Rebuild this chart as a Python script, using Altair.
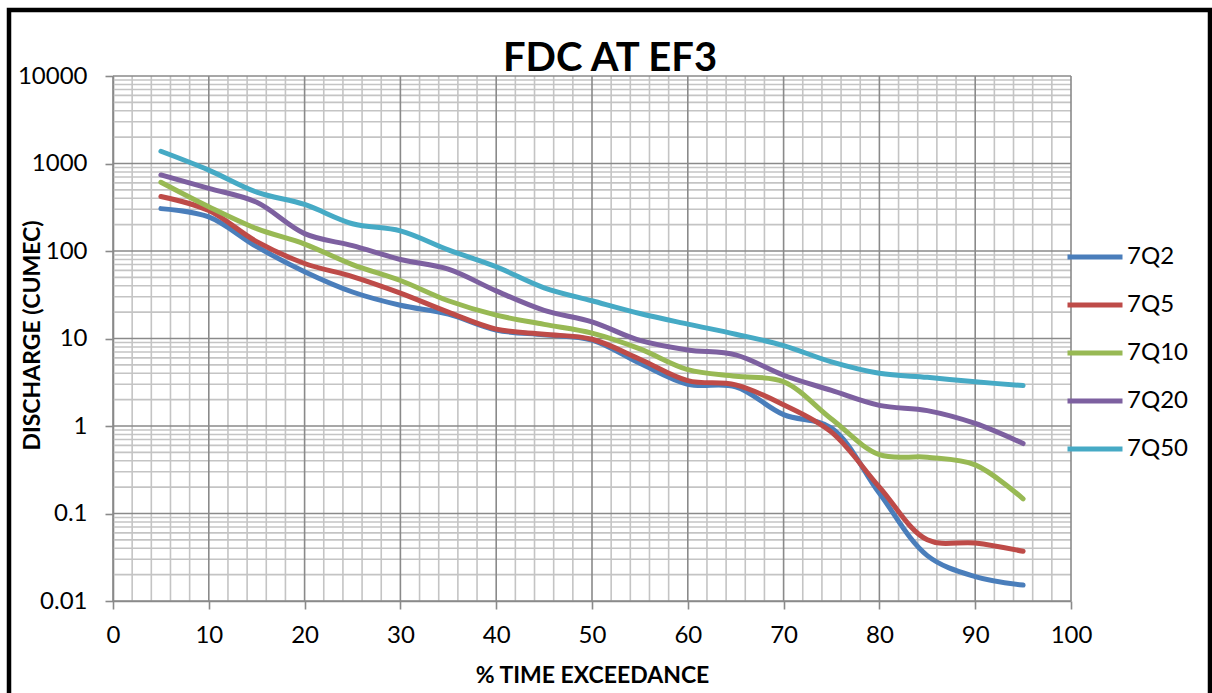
import altair as alt
import pandas as pd

# ---- data ----
exceedance = [5, 10, 15, 20, 25, 30, 35, 40, 45, 50, 55, 60, 65, 70, 75, 80, 85, 90, 95]
q7_2 = [305, 245, 112, 58, 34, 24, 19, 12.5, 11, 9.6, 5.2, 3.0, 2.8, 1.35, 0.95, 0.17, 0.033, 0.019, 0.0152]
q7_5 = [420, 290, 128, 72, 51, 33, 20, 12.8, 11.2, 9.8, 5.8, 3.3, 2.95, 1.75, 0.85, 0.2, 0.05, 0.046, 0.037]
q7_10 = [610, 320, 180, 120, 70, 46, 27, 18.5, 14.5, 11.5, 7.6, 4.4, 3.7, 3.2, 1.2, 0.47, 0.44, 0.36, 0.147]
q7_20 = [740, 520, 360, 158, 115, 80, 62, 35, 21, 15.5, 9.5, 7.4, 6.5, 3.8, 2.55, 1.72, 1.5, 1.07, 0.63]
q7_50 = [1380, 840, 470, 340, 205, 170, 103, 66, 38, 27, 19.3, 14.6, 11.2, 8.3, 5.4, 4.0, 3.6, 3.2, 2.9]
series_names = ["7Q2", "7Q5", "7Q10", "7Q20", "7Q50"]
series_values = [q7_2, q7_5, q7_10, q7_20, q7_50]
series_colors = ["#4a7ebb", "#be4b48", "#98b954", "#7d60a0", "#46aac5"]

x_major = list(range(0, 101, 10))
x_minor = [v for v in range(2, 100, 2) if v % 10 != 0]
y_major = [0.01, 0.1, 1, 10, 100, 1000, 10000]
y_minor = [k * 10.0 ** e for e in range(-2, 4) for k in range(2, 10)]

rows = []
for name, vals in zip(series_names, series_values):
    for x, v in zip(exceedance, vals):
        rows.append({"series": name, "x": x, "q": v})
df = pd.DataFrame(rows)

FONT = "Lato"
W, H = 958, 525
xscale = alt.Scale(domain=[0, 100], nice=False, zero=False)
yscale = alt.Scale(type="log", domain=[0.01, 10000], nice=False)

xaxis = alt.Axis(values=x_major, title="% TIME EXCEEDANCE", grid=False,
                 tickSize=8, tickColor="#8a8a8a", domainColor="#8a8a8a",
                 domainWidth=1.6, tickWidth=1.6, labelPadding=14, titlePadding=17,
                 labelFlush=False, labelOverlap=False)
yaxis = alt.Axis(values=y_major, format="~g", title="DISCHARGE (CUMEC)", grid=False,
                 tickSize=8, tickColor="#8a8a8a", domainColor="#8a8a8a",
                 domainWidth=1.6, tickWidth=1.6, labelPadding=18,
                 labelFlush=False, labelOverlap=False,
                 titleX=-81, titleY=259, titleAngle=270, titleAlign="center",
                 titleBaseline="middle")

vminor = alt.Chart(pd.DataFrame({"x": x_minor})).mark_rule(
    color="#c4c4c4", strokeWidth=1.6).encode(x=alt.X("x:Q", scale=xscale, axis=xaxis))
hminor = alt.Chart(pd.DataFrame({"q": y_minor})).mark_rule(
    color="#c4c4c4", strokeWidth=1.6).encode(y=alt.Y("q:Q", scale=yscale, axis=yaxis))
vmajor = alt.Chart(pd.DataFrame({"x": x_major})).mark_rule(
    color="#8a8a8a", strokeWidth=1.6).encode(x=alt.X("x:Q", scale=xscale, axis=xaxis))
hmajor = alt.Chart(pd.DataFrame({"q": y_major})).mark_rule(
    color="#8a8a8a", strokeWidth=1.6).encode(y=alt.Y("q:Q", scale=yscale, axis=yaxis))

lines = alt.Chart(df).mark_line(
    strokeWidth=5, interpolate="catmull-rom", strokeCap="round", strokeJoin="round"
).encode(
    x=alt.X("x:Q", scale=xscale, axis=xaxis),
    y=alt.Y("q:Q", scale=yscale, axis=yaxis),
    color=alt.Color("series:N", sort=series_names,
                    scale=alt.Scale(domain=series_names, range=series_colors),
                    legend=alt.Legend(title=None, orient="none", legendX=952, legendY=167,
                                      symbolType="stroke", symbolStrokeWidth=5,
                                      symbolSize=3025, labelFontSize=24, labelFont=FONT,
                                      labelColor="#000000", labelOffset=2,
                                      clipHeight=28, rowPadding=20, padding=0)),
    detail="series:N",
)

frame = alt.Chart(pd.DataFrame({"a": [0]})).mark_rect(
    fill=None, stroke="#000000", strokeWidth=4.5
).encode(x=alt.value(-104), x2=alt.value(1097), y=alt.value(-66), y2=alt.value(640))

chart = alt.layer(vminor, hminor, vmajor, hmajor, lines, frame).properties(
    width=W, height=H,
    title=alt.TitleParams("FDC AT EF3", font=FONT, fontSize=40, fontWeight="bold",
                          color="#000000", anchor="middle", frame="group",
                          baseline="alphabetic", offset=-103, dx=18),
    padding={"left": 113, "top": 76, "right": 141, "bottom": 92},
    autosize=alt.AutoSizeParams(type="none"),
    background="#ffffff",
).configure_view(stroke=None).configure_axis(
    labelFont=FONT, labelFontSize=24, labelColor="#000000",
    titleFont=FONT, titleFontSize=23, titleFontWeight="bold", titleColor="#000000",
)

chart.save("out.html", embed_options={"renderer": "svg", "actions": False})
